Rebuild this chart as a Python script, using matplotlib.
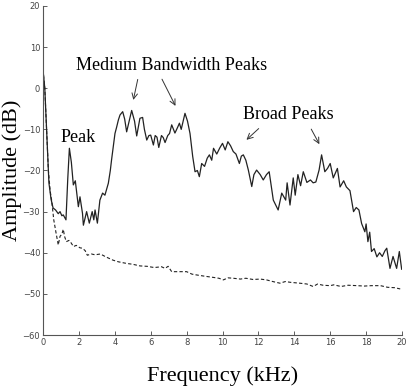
import matplotlib
matplotlib.use("Agg")
import matplotlib.pyplot as plt

# solid spectrum (kHz, dB)
freq = [0.0, 0.1, 0.2, 0.33, 0.45, 0.56, 0.7, 0.85, 0.95, 1.05, 1.13, 1.28,
        1.38, 1.47, 1.58, 1.69, 1.8, 1.97, 2.06, 2.2, 2.25, 2.43, 2.58, 2.74,
        2.83, 2.9, 3.03, 3.17, 3.32, 3.45, 3.64, 3.75, 3.82, 3.92, 4.01, 4.1,
        4.2, 4.29, 4.44, 4.55, 4.66, 4.8, 4.94, 5.1, 5.22, 5.4, 5.55, 5.65,
        5.78, 5.9, 6.0, 6.15, 6.25, 6.35, 6.45, 6.6, 6.7, 6.8, 6.95, 7.05,
        7.17, 7.35, 7.5, 7.6, 7.7, 7.91, 8.05, 8.19, 8.34, 8.47, 8.6, 8.71,
        8.84, 9.0, 9.15, 9.27, 9.4, 9.5, 9.68, 9.85, 10.0, 10.15, 10.3, 10.45,
        10.6, 10.75, 10.94, 11.05, 11.16, 11.3, 11.44, 11.63, 11.75, 11.9,
        12.1, 12.27, 12.45, 12.6, 12.83, 13.1, 13.3, 13.52, 13.6, 13.76,
        13.94, 14.05, 14.2, 14.35, 14.5, 14.7, 14.9, 15.05, 15.2, 15.38,
        15.52, 15.7, 15.85, 16.0, 16.17, 16.4, 16.55, 16.75, 16.9, 17.1,
        17.3, 17.45, 17.6, 17.75, 17.93, 18.0, 18.1, 18.2, 18.3, 18.45, 18.6,
        18.75, 18.9, 19.05, 19.15, 19.33, 19.5, 19.7, 19.85, 19.98]
amp = [4.5, 0, -10, -23, -27, -29.1, -29.6, -30.5, -30, -31, -30.8, -32,
       -22, -14.6, -18, -23.5, -22.5, -28.8, -26.4, -30.4, -33.3, -30, -32.8,
       -30, -32, -29.6, -32.8, -27.2, -25.5, -26, -23.1, -20, -17.4, -14, -11,
       -9.5, -7.7, -6.5, -5.7, -7.5, -10.6, -8, -5.4, -8, -11.6, -7.3, -7.1,
       -10, -12.6, -11.5, -11.4, -13.8, -11.5, -11.9, -14.4, -11.5, -12,
       -13.2, -11.5, -11, -8.9, -10.9, -9.5, -8.5, -10, -6.1, -8, -11, -16.6,
       -20.3, -20, -21.5, -18.3, -19, -17, -16.2, -17.5, -14.6, -16, -14.5,
       -13.4, -15, -13, -14, -15.4, -16, -18.3, -16.5, -16.2, -17.5, -19.9,
       -23.9, -21, -19.9, -21, -22.3, -21, -20.3, -27.2, -29.6, -25.5, -27.2,
       -23, -28.4, -21.8, -26, -21, -23.7, -20.3, -22.9, -22.3, -23, -22.8,
       -19.9, -16.2, -20.3, -19.5, -18.3, -21.8, -19.5, -24, -22.5, -24,
       -24.9, -30, -29, -29.6, -32.9, -34.9, -33, -37.3, -35, -39.7, -39,
       -41, -40, -40.9, -39.5, -38.9, -43.8, -40.9, -43.8, -39.7, -44]

# dashed noise floor
freq_n = [0.0, 0.1, 0.2, 0.3, 0.4, 0.48, 0.6, 0.72, 0.85, 0.95, 1.05, 1.13,
          1.2, 1.3, 1.45, 1.55, 1.7, 1.85, 2.06, 2.2, 2.35, 2.47, 2.7, 2.9,
          3.2, 3.5, 3.9, 4.2, 4.66, 5.0, 5.4, 5.8, 6.2, 6.6, 6.8, 6.97, 7.17,
          7.6, 8.0, 8.3, 8.56, 9.0, 9.5, 9.8, 10.05, 10.3, 10.6, 11.0, 11.3,
          11.7, 12.1, 12.45, 12.8, 13.2, 13.5, 13.8, 14.3, 14.7, 15.05, 15.3,
          15.6, 16.0, 16.2, 16.6, 17.0, 17.5, 17.9, 18.3, 18.8, 19.2, 19.6,
          19.9]
amp_n = [4.5, 0, -10, -20, -25, -27.2, -32, -35, -38.1, -36, -35.5, -34.3,
         -36, -37.3, -37, -37.5, -38.5, -38.2, -38.8, -38.9, -39.5, -40.6,
         -40.3, -40.5, -40.3, -41, -41.8, -42.2, -42.6, -42.8, -43.2, -43.3,
         -43.6, -43.4, -43.8, -43.3, -44.6, -44.6, -44.6, -45.2, -45.4, -45.7,
         -46, -46.2, -46.6, -46.1, -46.2, -46.4, -46.2, -46.5, -46.4, -46.6,
         -47, -47.4, -47, -47.2, -47.4, -47.6, -48.2, -47.6, -47.9, -48,
         -47.8, -48.2, -47.9, -48, -48.1, -48, -48, -48.4, -48.5, -48.8]

serif = "Liberation Serif"

fig = plt.figure(figsize=(4.15, 3.91), dpi=100)
ax = fig.add_axes([0.1036, 0.1432, 0.8651, 0.8415])

ax.plot(freq_n, amp_n, color="#222222", lw=0.8, ls=(0, (3, 2)))
ax.plot(freq, amp, color="#222222", lw=0.9)

ax.set_xlim(0, 20)
ax.set_ylim(-60, 20)
ax.set_xticks(range(0, 21, 2))
ax.set_yticks(range(-60, 21, 10))
ax.tick_params(direction="in", length=3, width=0.6, labelsize=6,
               colors="#444444", pad=2)
for s in ["top", "right"]:
    ax.spines[s].set_visible(False)
for s in ["left", "bottom"]:
    ax.spines[s].set_color("#555555")
    ax.spines[s].set_linewidth(0.8)

ax.set_xlabel("Frequency (kHz)", family=serif, fontsize=16, labelpad=14)
ax.set_ylabel("Amplitude (dB)", family=serif, fontsize=16, va="center")
ax.yaxis.set_label_coords(-0.086, 0.5)

arrow = dict(arrowstyle="->", color="#333333", lw=0.7)
ax.text(7.19, 5.6, "Medium Bandwidth Peaks", family=serif, fontsize=13,
        ha="center", va="center")
ax.annotate("", xy=(5.0, -3.5), xytext=(5.31, 2.8), arrowprops=arrow)
ax.annotate("", xy=(7.45, -4.9), xytext=(6.56, 2.8), arrowprops=arrow)
ax.text(13.65, -6.5, "Broad Peaks", family=serif, fontsize=13,
        ha="center", va="center")
ax.annotate("", xy=(11.22, -13.0), xytext=(12.13, -9.35), arrowprops=arrow)
ax.annotate("", xy=(15.47, -14.2), xytext=(14.87, -9.35), arrowprops=arrow)
ax.text(1.95, -11.9, "Peak", family=serif, fontsize=13,
        ha="center", va="center")

fig.savefig("out.png", dpi=100)
